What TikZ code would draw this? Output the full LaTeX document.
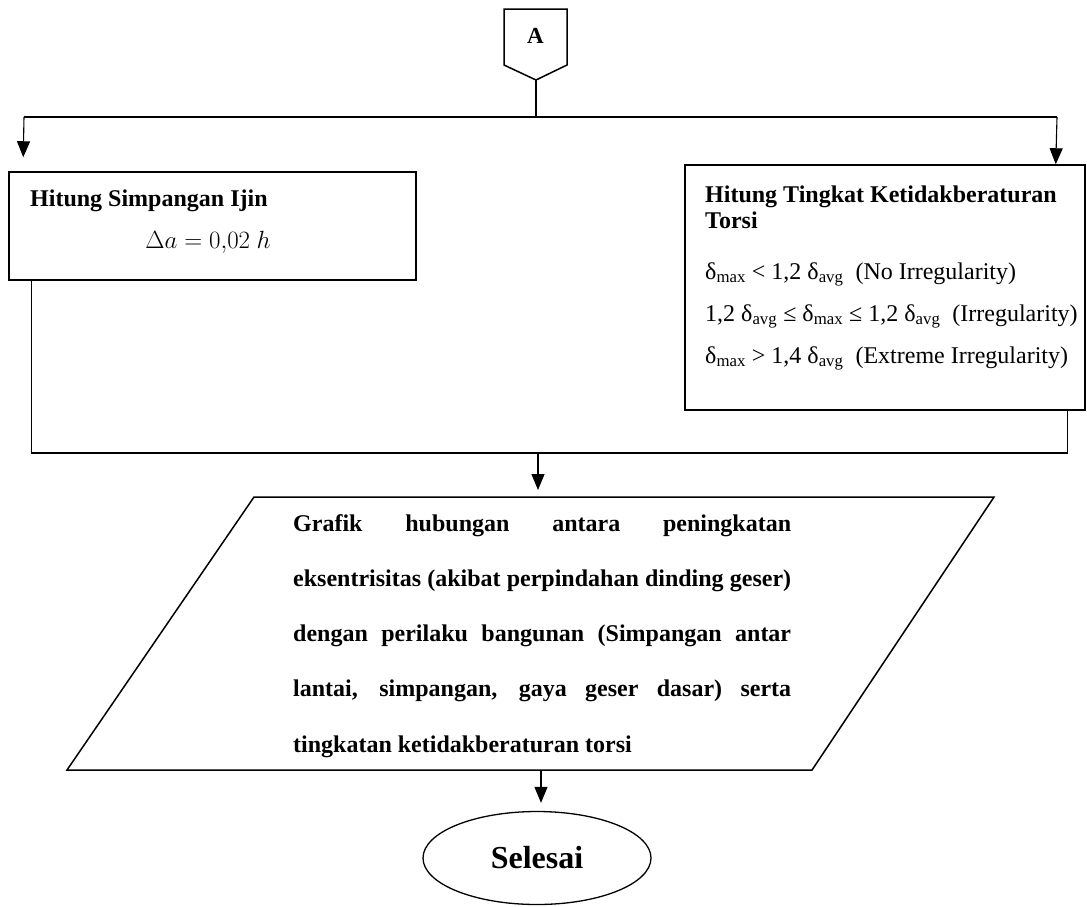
\documentclass[tikz,border=0pt]{standalone}
\usepackage{fontspec}
\setmainfont{Liberation Serif}
\usetikzlibrary{arrows.meta,positioning,shapes.geometric,calc}

\begin{document}
\begin{tikzpicture}[
  x=1pt,y=-1pt,
  box/.style={draw,rectangle,line width=1.5pt,inner sep=0pt},
  ln/.style={line width=1.1pt},
  arr/.style={-{Triangle[length=16pt,width=13pt]},line width=1.1pt},
  ttl/.style={font=\fontsize{24}{26.5}\selectfont\bfseries,inner sep=0pt},
  grafln/.style={font=\fontsize{24}{28}\selectfont\bfseries,inner sep=0pt,anchor=base west}
]
\useasboundingbox (0,0) rectangle (1087,906);

% off-page connector
\node[font=\fontsize{23}{27}\selectfont\bfseries,inner sep=0pt,anchor=base] (A) at (535.5,43) {A};
\draw[line width=1.5pt] (504,9) -- (567,9) -- (567,65) -- (536,80) -- (504,65) -- cycle;
\coordinate (Atip) at (536,80);

% process boxes
\node[box,minimum width=407pt,minimum height=108pt] (simp) at (212.5,226) {};
\node[ttl,anchor=base west] (simpT) at (30,206) {Hitung Simpangan Ijin};
\node[font=\fontsize{25.5}{30}\selectfont,inner sep=0pt,anchor=base] (simpF) at (208,248)
  {$\Delta a = 0{,}02\ h$};

\node[box,minimum width=400pt,minimum height=245pt] (torsi) at (885,287.5) {};
\node[ttl,anchor=base west,text width=385pt,align=flush left] (torsiT) at (705,202)
  {Hitung Tingkat Ketidakberaturan\\Torsi};
\node[font=\fontsize{24}{42}\selectfont,inner sep=0pt,anchor=base west,
      text width=385pt,align=flush left] (torsiK) at (705,279)
  {δ\textsubscript{max} < 1,2 δ\textsubscript{avg}\ \ (No Irregularity)\\
   1,2 δ\textsubscript{avg} ≤ δ\textsubscript{max} ≤ 1,2 δ\textsubscript{avg}\ \ (Irregularity)\\
   δ\textsubscript{max} > 1,4 δ\textsubscript{avg}\ \ (Extreme Irregularity)};

% output
\coordinate (p1) at (254,497);
\coordinate (p2) at (994,497);
\coordinate (p3) at (812,770);
\coordinate (p4) at (67,770);
\draw[line width=1.5pt] (p1) -- (p2) -- (p3) -- (p4) -- cycle;
\foreach \t [count=\i] in {{Grafik hubungan antara peningkatan},
    {eksentrisitas (akibat perpindahan dinding geser)},
    {dengan perilaku bangunan (Simpangan antar},
    {lantai, simpangan, gaya geser dasar) serta}}
  \node[grafln] (g\i) at (293,475.7+55.3*\i) {\makebox[498pt][s]{\t}};
\node[grafln] (g5) at (293,752) {tingkatan ketidakberaturan torsi};

\node[draw,ellipse,line width=1.3pt,minimum width=228pt,minimum height=93pt,
      font=\fontsize{32}{36}\selectfont\bfseries] (fin) at (537,858) {Selesai};

% connectors
\coordinate (tl) at (24,117);
\coordinate (tr) at (1057,117);
\draw[ln] (Atip) -- (Atip |- tl);
\draw[ln] (tl) -- (tr);
\draw[arr] (tl) -- ($(simp.north west)+(15,-14)$);
\draw[arr] (tr) -- ($(torsi.north east)+(-30,0)$);
\coordinate (jn) at (538,453);
\draw[ln] ($(simp.south west)+(23,0)$) |- (jn) -| ($(torsi.south east)+(-18,0)$);
\draw[arr] (jn) -- ($(jn |- p1)+(0,-7)$);
\coordinate (pb) at (541,770);
\draw[arr] (pb) -- ($(pb |- fin.north)+(0,-8)$);
\end{tikzpicture}
\end{document}
